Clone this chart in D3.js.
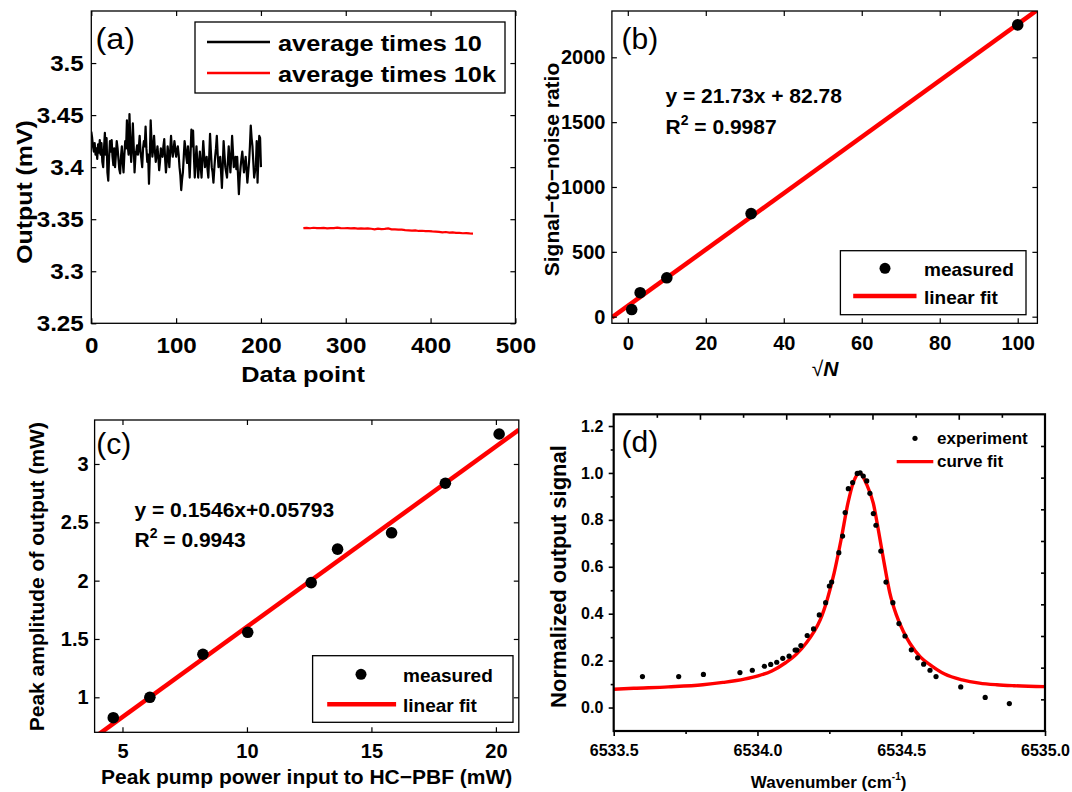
<!DOCTYPE html>
<html>
<head>
<meta charset="utf-8">
<script src="https://cdnjs.cloudflare.com/ajax/libs/d3/7.8.5/d3.min.js"></script>
<style>
  body { margin: 0; background: #fff; }
  svg { display: block; font-family: "Liberation Sans", Arial, sans-serif; }
</style>
</head>
<body>
<div id="chart"></div>
<script>
// ---------- (a) output vs data point ----------
// average times 10, one value per data point 0..200
const avg10 = [
  3.434, 3.428, 3.420, 3.415, 3.423, 3.412, 3.418, 3.408, 3.422, 3.414,
  3.426, 3.412, 3.423, 3.405, 3.400, 3.418, 3.433, 3.412, 3.428, 3.395,
  3.387, 3.410, 3.425, 3.415, 3.426, 3.410, 3.402, 3.418, 3.400, 3.412,
  3.425, 3.418, 3.408, 3.398, 3.394, 3.410, 3.420, 3.405, 3.395, 3.412,
  3.425, 3.418, 3.445, 3.420, 3.412, 3.451, 3.425, 3.405, 3.418, 3.442,
  3.420, 3.395, 3.410, 3.415, 3.421, 3.412, 3.418, 3.430, 3.415, 3.408,
  3.400, 3.418, 3.425, 3.420, 3.439, 3.418, 3.405, 3.412, 3.384, 3.410,
  3.445, 3.425, 3.410, 3.418, 3.430, 3.415, 3.405, 3.412, 3.420, 3.410,
  3.397, 3.405, 3.418, 3.412, 3.410, 3.420, 3.427, 3.408, 3.395, 3.405,
  3.420, 3.412, 3.400, 3.415, 3.430, 3.418, 3.410, 3.416, 3.425, 3.418,
  3.410, 3.415, 3.420, 3.412, 3.400, 3.392, 3.378, 3.388, 3.395, 3.410,
  3.425, 3.418, 3.410, 3.404, 3.420, 3.408, 3.390, 3.412, 3.436, 3.420,
  3.435, 3.410, 3.390, 3.405, 3.420, 3.405, 3.390, 3.402, 3.415, 3.400,
  3.390, 3.408, 3.425, 3.412, 3.400, 3.405, 3.410, 3.398, 3.390, 3.410,
  3.432, 3.415, 3.400, 3.395, 3.385, 3.398, 3.410, 3.418, 3.430, 3.412,
  3.400, 3.405, 3.410, 3.395, 3.380, 3.402, 3.425, 3.412, 3.400, 3.395,
  3.390, 3.405, 3.420, 3.408, 3.395, 3.410, 3.430, 3.415, 3.400, 3.405,
  3.410, 3.398, 3.410, 3.392, 3.374, 3.390, 3.400, 3.408, 3.415, 3.405,
  3.395, 3.402, 3.410, 3.398, 3.385, 3.395, 3.405, 3.420, 3.440, 3.428,
  3.420, 3.405, 3.390, 3.396, 3.400, 3.425, 3.385, 3.410, 3.430, 3.428,
  3.400
];
// average times 10k, every 4th data point from 250 to 450
const avg10kStart = 250, avg10kStep = 4;
const avg10k = [
  3.3414, 3.3417, 3.3413, 3.3418, 3.3415, 3.3414, 3.3416, 3.3412, 3.3415, 3.3414,
  3.3419, 3.3415, 3.3413, 3.3414, 3.3411, 3.3414, 3.3410, 3.3412, 3.3409, 3.3411,
  3.3408, 3.3402, 3.3409, 3.3405, 3.3407, 3.3412, 3.3403, 3.3402, 3.3400, 3.3399,
  3.3395, 3.3393, 3.3390, 3.3392, 3.3387, 3.3389, 3.3385, 3.3386, 3.3383, 3.3381,
  3.3379, 3.3374, 3.3377, 3.3371, 3.3374, 3.3369, 3.3368, 3.3365, 3.3367, 3.3364,
  3.3362
];
const aXTicks = [0, 100, 200, 300, 400, 500];
const aYTicks = [3.25, 3.3, 3.35, 3.4, 3.45, 3.5];
const aLegend = ["average times 10", "average times 10k"];

// ---------- (b) SNR vs sqrt(N) ----------
const sqrtN = [1, 3.162, 10, 31.62, 100];
const snr = [55, 185, 300, 795, 2250];
const fitB = { slope: 21.73, intercept: 82.78, eq: "y = 21.73x + 82.78", r2: "0.9987" };
const bXTicks = [0, 20, 40, 60, 80, 100];
const bYTicks = [0, 500, 1000, 1500, 2000];

// ---------- (c) peak amplitude vs pump power ----------
const pump = [4.63, 6.10, 8.23, 10.03, 12.58, 13.64, 15.81, 17.97, 20.13];
const amp = [0.825, 1.0, 1.369, 1.557, 1.983, 2.27, 2.41, 2.835, 3.257];
const fitC = { slope: 0.1546, intercept: 0.05793, eq: "y = 0.1546x+0.05793", r2: "0.9943" };
const cXTicks = [5, 10, 15, 20];
const cYTicks = [1, 1.5, 2, 2.5, 3];
const fitLegend = ["measured", "linear fit"];

// ---------- (d) normalized signal vs wavenumber ----------
const expWn = [
  6533.600, 6533.726, 6533.812, 6533.939, 6533.982, 6534.024, 6534.046, 6534.067, 6534.088, 6534.110,
  6534.131, 6534.137, 6534.151, 6534.173, 6534.195, 6534.215, 6534.237, 6534.250, 6534.258, 6534.283,
  6534.296, 6534.305, 6534.316, 6534.331, 6534.347, 6534.357, 6534.368, 6534.380, 6534.391, 6534.403,
  6534.412, 6534.429, 6534.447, 6534.471, 6534.492, 6534.513, 6534.535, 6534.557, 6534.578, 6534.600,
  6534.621, 6534.707, 6534.792, 6534.876
];
const expSig = [
  0.132, 0.132, 0.141, 0.149, 0.159, 0.176, 0.184, 0.193, 0.210, 0.219,
  0.245, 0.245, 0.264, 0.307, 0.335, 0.395, 0.447, 0.518, 0.535, 0.660,
  0.731, 0.831, 0.933, 0.959, 0.998, 1.000, 0.987, 0.966, 0.913, 0.827,
  0.777, 0.667, 0.535, 0.447, 0.358, 0.305, 0.246, 0.212, 0.185, 0.159,
  0.132, 0.088, 0.043, 0.017
];
const fitWn = [
  6533.5, 6533.57, 6533.69, 6533.81, 6533.88, 6533.954, 6534.002, 6534.05, 6534.099, 6534.135,
  6534.171, 6534.195, 6534.219, 6534.243, 6534.267, 6534.291, 6534.315, 6534.333, 6534.355, 6534.38,
  6534.403, 6534.42, 6534.44, 6534.46, 6534.483, 6534.507, 6534.531, 6534.567, 6534.603, 6534.651,
  6534.712, 6534.772, 6534.832, 6534.892, 6535.0
];
const fitSig = [
  0.078, 0.082, 0.088, 0.097, 0.107, 0.121, 0.135, 0.156, 0.192, 0.227,
  0.277, 0.320, 0.376, 0.462, 0.575, 0.717, 0.873, 0.958, 1.000, 0.950,
  0.870, 0.760, 0.620, 0.490, 0.395, 0.325, 0.272, 0.215, 0.180, 0.143,
  0.118, 0.104, 0.097, 0.093, 0.089
];
const dXTicks = [6533.5, 6534.0, 6534.5, 6535.0];
const dXMinor = [6533.75, 6534.25, 6534.75];
const dYTicks = [0, 0.2, 0.4, 0.6, 0.8, 1.0, 1.2];
const dYMinor = [0.1, 0.3, 0.5, 0.7, 0.9, 1.1];
const dLegend = ["experiment", "curve fit"];

const RED = "#ff0000";
const W = 1072, H = 792;

const svg = d3.select("#chart").append("svg")
    .attr("width", W)
    .attr("height", H)
    .attr("viewBox", [0, 0, W, H]);
const defs = svg.append("defs");

// stretch text horizontally (panel (a) lettering is wider than the font)
function widen(sel, k) {
  sel.each(function() {
    const w = this.getComputedTextLength();
    d3.select(this).attr("textLength", w * k).attr("lengthAdjust", "spacingAndGlyphs");
  });
}

function clipFor(id, x, y) {
  const [xl, xr] = x.range(), [yb, yt] = y.range();
  defs.append("clipPath").attr("id", id)
    .append("rect").attr("x", xl).attr("y", yt).attr("width", xr - xl).attr("height", yb - yt);
  return `url(#${id})`;
}

// box with labelled bottom/left axes and mirrored top/right ticks
function frame(g, x, y, o) {
  const [xl, xr] = x.range(), [yb, yt] = y.range();
  const inner = o.outward ? o.tick : -o.tick;
  const style = a => a
      .attr("font-family", o.font)
      .attr("font-size", o.size)
      .attr("font-weight", "bold")
      .call(a => a.select(".domain").remove())
      .call(a => a.selectAll(".tick line").attr("stroke", "#000").attr("stroke-width", o.tickW))
      .call(a => a.selectAll(".tick text").attr("fill", "#000"));

  const bottom = g.append("g").attr("transform", `translate(0,${yb})`)
    .call(d3.axisBottom(x).tickValues(o.xTicks).tickFormat(o.xFmt)
      .tickSizeInner(inner).tickSizeOuter(0).tickPadding(o.xPad))
    .call(style);
  const left = g.append("g").attr("transform", `translate(${xl},0)`)
    .call(d3.axisLeft(y).tickValues(o.yTicks).tickFormat(o.yFmt)
      .tickSizeInner(inner).tickSizeOuter(0).tickPadding(o.yPad))
    .call(style);
  if (o.mirror !== false) {
    g.append("g").attr("transform", `translate(0,${yt})`)
      .call(d3.axisTop(x).tickValues(o.xTicks).tickFormat("").tickSizeInner(-o.tick).tickSizeOuter(0))
      .call(style);
    g.append("g").attr("transform", `translate(${xr},0)`)
      .call(d3.axisRight(y).tickValues(o.yTicks).tickFormat("").tickSizeInner(-o.tick).tickSizeOuter(0))
      .call(style);
  }
  g.append("rect")
      .attr("x", xl).attr("y", yt)
      .attr("width", xr - xl).attr("height", yb - yt)
      .attr("fill", "none")
      .attr("stroke", "#000")
      .attr("stroke-width", o.frameW);
  return { bottom, left };
}

function panelLabel(g, text, x, y) {
  return g.append("text")
      .attr("x", x).attr("y", y)
      .attr("font-size", 30)
      .attr("fill", "#000")
      .text(text);
}

function yTitle(g, text, x, y, size) {
  return g.append("text")
      .attr("transform", `translate(${x},${y}) rotate(-90)`)
      .attr("text-anchor", "middle")
      .attr("font-size", size)
      .attr("font-weight", "bold")
      .text(text);
}

function fitLegendBox(g, box, dot, line, textX, baselines) {
  g.append("rect")
      .attr("x", box[0]).attr("y", box[1]).attr("width", box[2]).attr("height", box[3])
      .attr("fill", "#fff").attr("stroke", "#000").attr("stroke-width", 1.3);
  g.append("circle").attr("cx", dot[0]).attr("cy", dot[1]).attr("r", 5.5).attr("fill", "#000");
  g.append("line")
      .attr("x1", line[0]).attr("x2", line[1]).attr("y1", line[2]).attr("y2", line[2])
      .attr("stroke", RED).attr("stroke-width", 4.5);
  g.selectAll("text.leg").data(fitLegend).join("text")
      .attr("class", "leg")
      .attr("x", textX).attr("y", (d, i) => baselines[i])
      .attr("font-size", 19).attr("font-weight", "bold")
      .text(d => d);
}

function equation(g, fit, x, y0, y1) {
  g.append("text").attr("x", x).attr("y", y0)
      .attr("font-size", 21).attr("font-weight", "bold")
      .text(fit.eq);
  const r = g.append("text").attr("x", x).attr("y", y1)
      .attr("font-size", 21).attr("font-weight", "bold");
  r.append("tspan").text("R");
  r.append("tspan").attr("font-size", 14).attr("dy", -9).text("2");
  r.append("tspan").attr("dy", 9).text(" = " + fit.r2);
}

// ================= (a) =================
{
  const g = svg.append("g");
  const x = d3.scaleLinear([0, 500], [91.3, 515.4]);
  const y = d3.scaleLinear([3.25, 3.55], [323.3, 11]);
  const clip = clipFor("clipA", x, y);

  g.append("path")
      .attr("clip-path", clip)
      .attr("fill", "none").attr("stroke", "#000").attr("stroke-width", 2.2)
      .attr("stroke-linejoin", "round")
      .attr("d", d3.line().x((d, i) => x(i)).y(d => y(d))(avg10));
  g.append("path")
      .attr("clip-path", clip)
      .attr("fill", "none").attr("stroke", RED).attr("stroke-width", 2.2)
      .attr("d", d3.line().x((d, i) => x(avg10kStart + i * avg10kStep)).y(d => y(d))(avg10k));

  const ax = frame(g, x, y, {
    xTicks: aXTicks, yTicks: aYTicks, xFmt: d => d, yFmt: d => d,
    tick: 5, tickW: 1.2, frameW: 1.3, size: 22, xPad: 14, yPad: 7.5
  });
  ax.bottom.selectAll(".tick text").call(widen, 1.1);
  ax.left.selectAll(".tick text").call(widen, 1.1);

  // legend
  g.append("rect")
      .attr("x", 195).attr("y", 22).attr("width", 310).attr("height", 71)
      .attr("fill", "#fff").attr("stroke", "#000").attr("stroke-width", 1.3);
  g.selectAll("line.leg").data(aLegend).join("line")
      .attr("class", "leg")
      .attr("x1", 207).attr("x2", 270)
      .attr("y1", (d, i) => 42 + i * 31).attr("y2", (d, i) => 42 + i * 31)
      .attr("stroke", (d, i) => i ? RED : "#000").attr("stroke-width", 2.5);
  g.selectAll("text.leg").data(aLegend).join("text")
      .attr("class", "leg")
      .attr("x", 278).attr("y", (d, i) => 50.5 + i * 31)
      .attr("font-size", 22).attr("font-weight", "bold")
      .text(d => d)
      .call(widen, 1.15);

  panelLabel(g, "(a)", 95.5, 48.5).call(widen, 1.08);
  g.append("text")
      .attr("x", 303).attr("y", 382)
      .attr("text-anchor", "middle")
      .attr("font-size", 22).attr("font-weight", "bold")
      .text("Data point")
      .call(widen, 1.15);
  yTitle(g, "Output (mV)", 32, 192, 22).call(widen, 1.13);
}

// ================= (b) =================
{
  const g = svg.append("g");
  const x = d3.scaleLinear([-4.08, 105.05], [611.9, 1037.4]);
  const y = d3.scaleLinear([-51, 2357], [323.3, 11]);
  const clip = clipFor("clipB", x, y);

  g.append("line")
      .attr("clip-path", clip)
      .attr("x1", x(x.domain()[0])).attr("y1", y(fitB.slope * x.domain()[0] + fitB.intercept))
      .attr("x2", x(x.domain()[1])).attr("y2", y(fitB.slope * x.domain()[1] + fitB.intercept))
      .attr("stroke", RED).attr("stroke-width", 4.5);

  g.selectAll("circle.pt").data(d3.zip(sqrtN, snr)).join("circle")
      .attr("class", "pt")
      .attr("cx", d => x(d[0])).attr("cy", d => y(d[1]))
      .attr("r", 5.8).attr("fill", "#000");

  frame(g, x, y, {
    xTicks: bXTicks, yTicks: bYTicks, xFmt: d => d, yFmt: d => d,
    tick: 5, tickW: 1.2, frameW: 1.3, size: 20, xPad: 12.5, yPad: 6.5
  });

  fitLegendBox(g, [840.4, 250.7, 185.6, 64], [885, 268.3], [853.2, 916.5, 296], 924, [276, 304]);
  equation(g, fitB, 665.5, 103.3, 134);
  panelLabel(g, "(b)", 621.6, 48.5);

  yTitle(g, "Signal\u2212to\u2212noise ratio", 559, 169.5, 21);
  const t = g.append("text")
      .attr("x", 825).attr("y", 376)
      .attr("text-anchor", "middle")
      .attr("font-size", 21);
  t.append("tspan").text("\u221A");
  t.append("tspan").attr("font-weight", "bold").attr("font-style", "italic").text("N");
}

// ================= (c) =================
{
  const g = svg.append("g");
  const x = d3.scaleLinear([3.88, 20.92], [94.6, 518.8]);
  const y = d3.scaleLinear([0.7, 3.377], [732.3, 420]);
  const clip = clipFor("clipC", x, y);

  g.append("line")
      .attr("clip-path", clip)
      .attr("x1", x(x.domain()[0])).attr("y1", y(fitC.slope * x.domain()[0] + fitC.intercept))
      .attr("x2", x(x.domain()[1])).attr("y2", y(fitC.slope * x.domain()[1] + fitC.intercept))
      .attr("stroke", RED).attr("stroke-width", 4.5);

  g.selectAll("circle.pt").data(d3.zip(pump, amp)).join("circle")
      .attr("class", "pt")
      .attr("cx", d => x(d[0])).attr("cy", d => y(d[1]))
      .attr("r", 5.8).attr("fill", "#000");

  frame(g, x, y, {
    xTicks: cXTicks, yTicks: cYTicks, xFmt: d => d, yFmt: d => d,
    tick: 5, tickW: 1.2, frameW: 1.3, size: 20, xPad: 11.8, yPad: 6
  });

  fitLegendBox(g, [312.6, 655.7, 200.4, 66.6], [361, 674.3], [327.2, 396.1, 704.3], 403, [681.7, 711.7]);
  equation(g, fitC, 134.5, 516.7, 546.7);
  panelLabel(g, "(c)", 96.3, 454);

  g.append("text")
      .attr("x", 306.7).attr("y", 784)
      .attr("text-anchor", "middle")
      .attr("font-size", 21).attr("font-weight", "bold")
      .text("Peak pump power input to HC\u2212PBF (mW)");
  yTitle(g, "Peak amplitude of output (mW)", 44, 576.7, 21);
}

// ================= (d) =================
{
  const g = svg.append("g");
  const x = d3.scaleLinear([6533.5, 6535.0], [613.7, 1045]);
  const y = d3.scaleLinear([-0.1, 1.25], [731, 414.3]);
  const clip = clipFor("clipD", x, y);
  const [xl, xr] = x.range(), [yb, yt] = y.range();

  g.append("path")
      .attr("clip-path", clip)
      .attr("fill", "none").attr("stroke", RED).attr("stroke-width", 3.4)
      .attr("d", d3.line().curve(d3.curveMonotoneX)
        .x(d => x(d[0])).y(d => y(d[1]))(d3.zip(fitWn, fitSig)));

  g.selectAll("circle.pt").data(d3.zip(expWn, expSig)).join("circle")
      .attr("class", "pt")
      .attr("cx", d => x(d[0])).attr("cy", d => y(d[1]))
      .attr("r", 2.6).attr("fill", "#000");

  frame(g, x, y, {
    xTicks: dXTicks, yTicks: dYTicks, xFmt: d3.format(".1f"), yFmt: d3.format(".1f"),
    tick: 5, outward: true, mirror: false, tickW: 1.6, frameW: 2.2, size: 16, xPad: 8.3, yPad: 5.4
  });

  // minor ticks outward, and Origin's own 10-step ticks on top and right
  const minor = a => a.call(a => a.select(".domain").remove())
      .call(a => a.selectAll(".tick line").attr("stroke", "#000").attr("stroke-width", 1.6));
  g.append("g").attr("transform", `translate(0,${yb})`)
      .call(d3.axisBottom(x).tickValues(dXMinor).tickFormat("").tickSizeInner(3).tickSizeOuter(0)).call(minor);
  g.append("g").attr("transform", `translate(${xl},0)`)
      .call(d3.axisLeft(y).tickValues(dYMinor).tickFormat("").tickSizeInner(3).tickSizeOuter(0)).call(minor);

  const [dx0, dx1] = x.domain(), [dy0, dy1] = y.domain();
  const steps = d3.range(1, 10);
  const topVals = steps.map(i => dx0 + i * (dx1 - dx0) / 10);
  const rightVals = steps.map(i => dy0 + i * (dy1 - dy0) / 10);
  g.append("g").attr("transform", `translate(0,${yt})`)
      .call(d3.axisTop(x).tickValues(topVals).tickFormat("").tickSizeOuter(0)
        .tickSizeInner(-4)).call(minor)
      .call(a => a.selectAll(".tick line").attr("y2", (d, i) => i % 2 ? 5.5 : 3.5));
  g.append("g").attr("transform", `translate(${xr},0)`)
      .call(d3.axisRight(y).tickValues(rightVals).tickFormat("").tickSizeOuter(0)
        .tickSizeInner(-4)).call(minor);

  // legend
  g.append("circle").attr("cx", 915).attr("cy", 438.3).attr("r", 2.6).attr("fill", "#000");
  g.append("line")
      .attr("x1", 896.7).attr("x2", 933.3).attr("y1", 461.7).attr("y2", 461.7)
      .attr("stroke", RED).attr("stroke-width", 3.2);
  g.selectAll("text.leg").data(dLegend).join("text")
      .attr("class", "leg")
      .attr("x", 937).attr("y", (d, i) => 443.8 + i * 23.2)
      .attr("font-size", 17).attr("font-weight", "bold")
      .text(d => d);

  panelLabel(g, "(d)", 621.6, 452);
  yTitle(g, "Normalized output signal", 566, 576.5, 22);

  const t = g.append("text")
      .attr("x", 828.6).attr("y", 788)
      .attr("text-anchor", "middle")
      .attr("font-size", 17).attr("font-weight", "bold");
  t.append("tspan").text("Wavenumber (cm");
  t.append("tspan").attr("font-size", 10).attr("dy", -8).text("-1");
  t.append("tspan").attr("dy", 8).text(")");
}
</script>
</body>
</html>
